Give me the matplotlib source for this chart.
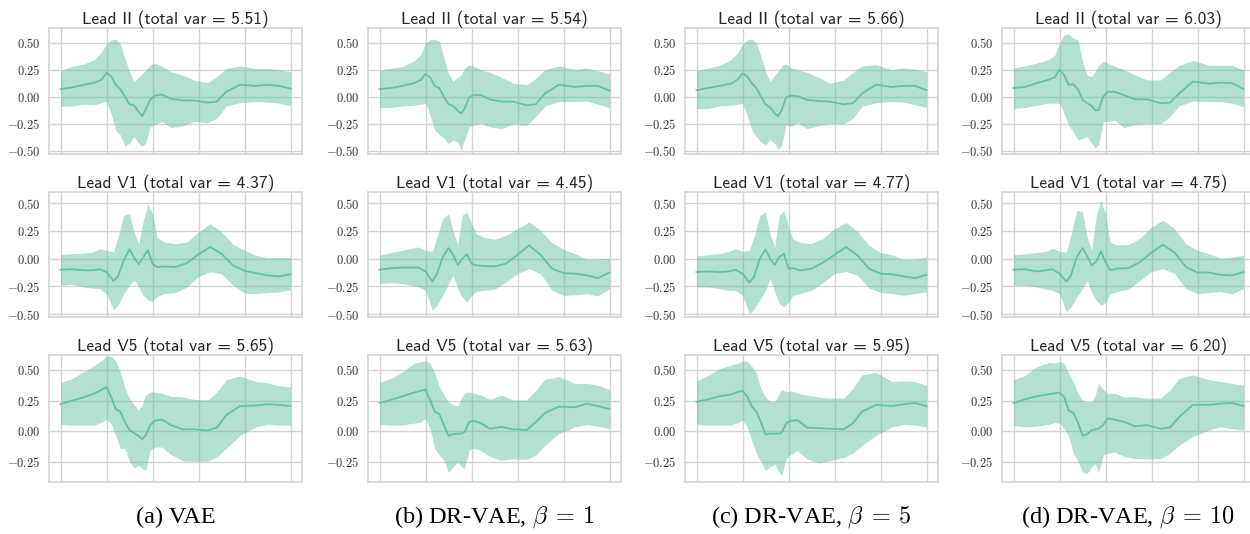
import matplotlib.pyplot as plt
import numpy as np
from matplotlib.ticker import FormatStrFormatter

plt.rcParams['mathtext.fontset'] = 'cm'
plt.rcParams['axes.formatter.use_mathtext'] = True

captions = ['(a) VAE', r'(b) DR-VAE, $\beta\;=\,1$', r'(c) DR-VAE, $\beta\;=\,5$', r'(d) DR-VAE, $\beta\;=\,10$']
leads = ['II', 'V1', 'V5']
total_var = [[5.51, 5.54, 5.66, 6.03],
             [4.37, 4.45, 4.77, 4.75],
             [5.65, 5.63, 5.95, 6.20]]

# sample positions (0..100 across the beat) where values were read
knots_ii = [0, 5, 10, 15, 18, 20, 22, 24, 26, 28, 30, 32, 34, 35.5, 37, 39, 41, 44, 48, 53, 58, 64, 68, 72, 78, 85, 90, 95, 100]
knots_v1 = [0, 5, 10, 14, 17, 20, 23, 25, 27.5, 30, 32, 34, 36, 38, 40, 42, 45, 50, 55, 60, 65, 70, 75, 80, 85, 90, 95, 100]
knots_v5 = knots_ii

# lead II: one list per model (a, b, c, d)
ii_mean = [
    [0.07, 0.085, 0.11, 0.13, 0.16, 0.22, 0.19, 0.11, 0.07, 0.0, -0.07, -0.08, -0.14, -0.18, -0.12, -0.03, 0.01, 0.02, -0.02, -0.035, -0.035, -0.055, -0.045, 0.045, 0.11, 0.10, 0.11, 0.10, 0.075],
    [0.07, 0.08, 0.10, 0.125, 0.155, 0.21, 0.18, 0.10, 0.08, 0.0, -0.07, -0.085, -0.13, -0.155, -0.11, -0.005, 0.015, 0.015, -0.025, -0.045, -0.045, -0.08, -0.07, 0.03, 0.11, 0.09, 0.10, 0.10, 0.055],
    [0.06, 0.08, 0.10, 0.12, 0.16, 0.215, 0.19, 0.125, 0.08, 0.0, -0.07, -0.10, -0.155, -0.18, -0.125, -0.005, 0.01, 0.005, -0.03, -0.04, -0.045, -0.07, -0.06, 0.03, 0.11, 0.09, 0.10, 0.10, 0.06],
    [0.08, 0.09, 0.125, 0.155, 0.18, 0.25, 0.20, 0.11, 0.115, 0.07, -0.03, -0.06, -0.085, -0.125, -0.125, 0.0, 0.045, 0.045, 0.015, -0.025, -0.025, -0.06, -0.055, 0.03, 0.14, 0.12, 0.13, 0.125, 0.07],
]
ii_upper = [
    [0.24, 0.28, 0.30, 0.345, 0.42, 0.49, 0.525, 0.53, 0.49, 0.355, 0.23, 0.14, 0.18, 0.21, 0.245, 0.29, 0.31, 0.285, 0.23, 0.20, 0.155, 0.13, 0.185, 0.26, 0.285, 0.26, 0.26, 0.25, 0.23],
    [0.24, 0.265, 0.28, 0.33, 0.39, 0.50, 0.525, 0.53, 0.515, 0.36, 0.21, 0.145, 0.18, 0.20, 0.265, 0.295, 0.28, 0.25, 0.225, 0.18, 0.125, 0.11, 0.17, 0.25, 0.285, 0.25, 0.265, 0.24, 0.21],
    [0.24, 0.265, 0.29, 0.34, 0.41, 0.485, 0.525, 0.535, 0.50, 0.375, 0.235, 0.14, 0.20, 0.235, 0.285, 0.305, 0.265, 0.25, 0.225, 0.18, 0.125, 0.155, 0.225, 0.285, 0.295, 0.25, 0.265, 0.255, 0.23],
    [0.265, 0.285, 0.31, 0.34, 0.385, 0.495, 0.57, 0.58, 0.54, 0.525, 0.325, 0.20, 0.185, 0.23, 0.29, 0.325, 0.31, 0.28, 0.25, 0.20, 0.155, 0.155, 0.225, 0.29, 0.335, 0.29, 0.29, 0.29, 0.245],
]
ii_lower = [
    [-0.09, -0.085, -0.07, -0.075, -0.055, -0.045, -0.155, -0.31, -0.355, -0.455, -0.43, -0.37, -0.43, -0.46, -0.43, -0.28, -0.26, -0.23, -0.285, -0.27, -0.23, -0.24, -0.20, -0.09, -0.055, -0.045, -0.05, -0.06, -0.085],
    [-0.10, -0.10, -0.085, -0.08, -0.07, -0.06, -0.17, -0.31, -0.35, -0.38, -0.435, -0.40, -0.42, -0.49, -0.40, -0.28, -0.265, -0.245, -0.28, -0.295, -0.255, -0.265, -0.185, -0.085, -0.045, -0.045, -0.04, -0.07, -0.10],
    [-0.11, -0.11, -0.085, -0.08, -0.07, -0.06, -0.17, -0.305, -0.37, -0.42, -0.445, -0.40, -0.43, -0.49, -0.445, -0.26, -0.275, -0.24, -0.295, -0.27, -0.25, -0.25, -0.20, -0.09, -0.055, -0.045, -0.05, -0.075, -0.10],
    [-0.11, -0.10, -0.08, -0.06, -0.06, -0.06, -0.155, -0.265, -0.325, -0.40, -0.385, -0.37, -0.43, -0.475, -0.445, -0.23, -0.23, -0.215, -0.285, -0.26, -0.25, -0.25, -0.185, -0.085, -0.04, -0.045, -0.045, -0.06, -0.095],
]

# lead V1
v1_mean = [
    [-0.10, -0.095, -0.105, -0.105, -0.095, -0.12, -0.20, -0.16, -0.015, 0.085, 0.01, -0.05, 0.015, 0.075, -0.045, -0.075, -0.07, -0.075, -0.04, 0.04, 0.105, 0.045, -0.06, -0.11, -0.13, -0.15, -0.16, -0.14],
    [-0.10, -0.085, -0.08, -0.08, -0.08, -0.115, -0.205, -0.135, 0.015, 0.095, 0.035, -0.055, 0.0, 0.04, -0.045, -0.06, -0.065, -0.07, -0.045, 0.035, 0.12, 0.035, -0.09, -0.13, -0.135, -0.15, -0.175, -0.125],
    [-0.12, -0.115, -0.12, -0.115, -0.10, -0.135, -0.215, -0.165, 0.0, 0.085, 0.0, -0.055, 0.015, 0.045, -0.09, -0.085, -0.105, -0.09, -0.035, 0.035, 0.105, 0.03, -0.09, -0.135, -0.14, -0.16, -0.175, -0.145],
    [-0.10, -0.095, -0.115, -0.105, -0.095, -0.135, -0.205, -0.15, 0.015, 0.095, 0.025, -0.06, -0.025, 0.065, -0.03, -0.105, -0.09, -0.085, -0.03, 0.055, 0.125, 0.055, -0.075, -0.125, -0.125, -0.145, -0.15, -0.12],
]
v1_upper = [
    [0.035, 0.045, 0.05, 0.06, 0.09, 0.075, 0.06, 0.195, 0.39, 0.405, 0.24, 0.13, 0.345, 0.49, 0.405, 0.195, 0.15, 0.135, 0.15, 0.24, 0.315, 0.24, 0.13, 0.075, 0.03, 0.01, 0.01, 0.01],
    [0.03, 0.055, 0.075, 0.095, 0.105, 0.075, 0.065, 0.195, 0.36, 0.405, 0.245, 0.12, 0.39, 0.42, 0.315, 0.225, 0.195, 0.175, 0.21, 0.27, 0.33, 0.255, 0.145, 0.085, 0.045, -0.005, 0.0, 0.005],
    [0.025, 0.035, 0.045, 0.065, 0.09, 0.065, 0.075, 0.195, 0.39, 0.42, 0.225, 0.105, 0.39, 0.435, 0.285, 0.175, 0.145, 0.135, 0.18, 0.27, 0.325, 0.245, 0.12, 0.055, 0.035, -0.005, -0.005, 0.015],
    [0.035, 0.045, 0.055, 0.065, 0.095, 0.065, 0.06, 0.21, 0.435, 0.42, 0.195, 0.075, 0.39, 0.525, 0.405, 0.145, 0.125, 0.125, 0.185, 0.285, 0.345, 0.27, 0.135, 0.075, 0.045, 0.005, 0.015, 0.03],
]
v1_lower = [
    [-0.24, -0.23, -0.255, -0.265, -0.27, -0.315, -0.46, -0.42, -0.315, -0.24, -0.195, -0.255, -0.33, -0.37, -0.385, -0.34, -0.315, -0.305, -0.255, -0.16, -0.12, -0.135, -0.24, -0.31, -0.315, -0.305, -0.30, -0.28],
    [-0.225, -0.215, -0.225, -0.24, -0.255, -0.285, -0.465, -0.42, -0.33, -0.225, -0.15, -0.27, -0.345, -0.39, -0.33, -0.295, -0.285, -0.275, -0.21, -0.135, -0.09, -0.135, -0.285, -0.33, -0.325, -0.315, -0.335, -0.27],
    [-0.255, -0.255, -0.27, -0.285, -0.285, -0.33, -0.495, -0.455, -0.375, -0.285, -0.18, -0.30, -0.405, -0.435, -0.39, -0.33, -0.315, -0.285, -0.215, -0.135, -0.115, -0.15, -0.265, -0.305, -0.315, -0.33, -0.315, -0.30],
    [-0.24, -0.24, -0.255, -0.275, -0.285, -0.315, -0.48, -0.435, -0.345, -0.27, -0.195, -0.305, -0.375, -0.42, -0.395, -0.315, -0.295, -0.275, -0.195, -0.115, -0.09, -0.135, -0.27, -0.315, -0.305, -0.295, -0.315, -0.27],
]

# lead V5
v5_mean = [
    [0.22, 0.25, 0.275, 0.31, 0.34, 0.36, 0.28, 0.18, 0.16, 0.075, 0.01, -0.015, -0.04, -0.065, -0.035, 0.05, 0.085, 0.095, 0.05, 0.015, 0.015, 0.005, 0.03, 0.13, 0.205, 0.21, 0.22, 0.215, 0.205],
    [0.23, 0.255, 0.285, 0.315, 0.33, 0.34, 0.255, 0.16, 0.14, 0.05, -0.035, -0.025, -0.02, -0.02, -0.005, 0.075, 0.085, 0.065, 0.02, 0.035, 0.015, 0.01, 0.075, 0.15, 0.20, 0.195, 0.225, 0.205, 0.18],
    [0.24, 0.26, 0.285, 0.30, 0.32, 0.33, 0.285, 0.205, 0.16, 0.075, -0.025, -0.02, -0.02, -0.02, -0.015, 0.065, 0.085, 0.09, 0.03, 0.025, 0.02, 0.015, 0.065, 0.16, 0.215, 0.205, 0.22, 0.23, 0.205],
    [0.23, 0.26, 0.285, 0.30, 0.31, 0.315, 0.28, 0.17, 0.15, 0.07, -0.035, -0.025, 0.01, 0.015, 0.02, 0.05, 0.105, 0.095, 0.075, 0.04, 0.05, 0.02, 0.03, 0.115, 0.215, 0.215, 0.225, 0.23, 0.205],
]
v5_upper = [
    [0.395, 0.43, 0.485, 0.54, 0.58, 0.615, 0.61, 0.575, 0.485, 0.35, 0.27, 0.215, 0.17, 0.215, 0.295, 0.32, 0.32, 0.31, 0.285, 0.28, 0.26, 0.255, 0.32, 0.42, 0.45, 0.405, 0.395, 0.37, 0.36],
    [0.40, 0.43, 0.485, 0.555, 0.565, 0.575, 0.555, 0.475, 0.365, 0.295, 0.24, 0.215, 0.205, 0.27, 0.31, 0.32, 0.31, 0.295, 0.26, 0.295, 0.255, 0.255, 0.335, 0.425, 0.445, 0.39, 0.39, 0.375, 0.34],
    [0.41, 0.455, 0.51, 0.54, 0.555, 0.575, 0.57, 0.53, 0.475, 0.35, 0.28, 0.24, 0.24, 0.295, 0.34, 0.32, 0.33, 0.31, 0.295, 0.28, 0.27, 0.27, 0.35, 0.46, 0.48, 0.405, 0.41, 0.405, 0.375],
    [0.42, 0.455, 0.525, 0.56, 0.555, 0.57, 0.555, 0.475, 0.405, 0.31, 0.255, 0.24, 0.24, 0.295, 0.39, 0.34, 0.305, 0.31, 0.28, 0.28, 0.27, 0.27, 0.335, 0.43, 0.46, 0.42, 0.405, 0.39, 0.375],
]
v5_lower = [
    [0.055, 0.05, 0.05, 0.05, 0.075, 0.095, 0.065, -0.035, -0.14, -0.14, -0.25, -0.30, -0.28, -0.305, -0.32, -0.155, -0.13, -0.13, -0.19, -0.24, -0.245, -0.245, -0.21, -0.14, -0.035, 0.035, 0.055, 0.05, 0.05],
    [0.055, 0.05, 0.05, 0.065, 0.075, 0.105, 0.02, -0.14, -0.195, -0.24, -0.335, -0.29, -0.25, -0.29, -0.305, -0.155, -0.14, -0.155, -0.205, -0.24, -0.225, -0.23, -0.195, -0.115, -0.02, 0.035, 0.055, 0.04, 0.02],
    [0.055, 0.05, 0.05, 0.05, 0.07, 0.09, 0.035, -0.075, -0.18, -0.25, -0.32, -0.29, -0.27, -0.32, -0.36, -0.225, -0.19, -0.16, -0.225, -0.26, -0.24, -0.215, -0.18, -0.115, -0.035, 0.035, 0.055, 0.05, 0.035],
    [0.045, 0.035, 0.04, 0.055, 0.07, 0.065, 0.02, -0.045, -0.18, -0.24, -0.335, -0.345, -0.29, -0.265, -0.335, -0.195, -0.18, -0.17, -0.205, -0.225, -0.225, -0.225, -0.18, -0.115, -0.045, 0.01, 0.035, 0.02, 0.01],
]

rows = [(knots_ii, ii_mean, ii_upper, ii_lower),
        (knots_v1, v1_mean, v1_upper, v1_lower),
        (knots_v5, v5_mean, v5_upper, v5_lower)]

W, H = 1250, 534
fig = plt.figure(figsize=(W / 100, H / 100), dpi=100)

color = '#66c2a5'
grid_c = '#d4d4d4'
col_left = [49, 368, 685, 1002]
ax_w = 253
row_box = [(28, 154), (192, 317), (355, 482)]  # top, bottom in pixels
ylims = [(-0.53, 0.635), (-0.525, 0.60), (-0.415, 0.622)]
yticks = [[-0.5, -0.25, 0, 0.25, 0.5], [-0.5, -0.25, 0, 0.25, 0.5], [-0.25, 0, 0.25, 0.5]]

for r, (knots, means, uppers, lowers) in enumerate(rows):
    top, bot = row_box[r]
    for c in range(4):
        ax = fig.add_axes([col_left[c] / W, (H - bot) / H, ax_w / W, (bot - top) / H])
        x = np.array(knots)
        ax.fill_between(x, lowers[c], uppers[c], color=color, alpha=0.5, linewidth=0)
        ax.plot(x, means[c], color=color, linewidth=1.3)
        ax.set_xlim(-5, 105)
        ax.set_ylim(*ylims[r])
        ax.set_xticks(np.arange(0, 101, 20))
        ax.set_xticklabels([])
        ax.set_yticks(yticks[r])
        ax.yaxis.set_major_formatter(FormatStrFormatter('$%.2f$'))
        ax.tick_params(length=0, labelsize=9, pad=6, labelcolor='#333333')
        ax.grid(True, color=grid_c, linewidth=1.0)
        ax.set_axisbelow(True)
        for s in ax.spines.values():
            s.set_color(grid_c)
            s.set_linewidth(1.2)
        ax.set_title(f'Lead {leads[r]} (total var = {total_var[r][c]:.2f})',
                     fontfamily='cmss10', fontsize=12.5, color='#262626', pad=3)
        if r == 2:
            fig.text((col_left[c] + ax_w / 2) / W, 17 / H, captions[c],
                     ha='center', va='center', fontsize=17.5, fontfamily='Liberation Serif')

fig.savefig('out.png', dpi=100)
